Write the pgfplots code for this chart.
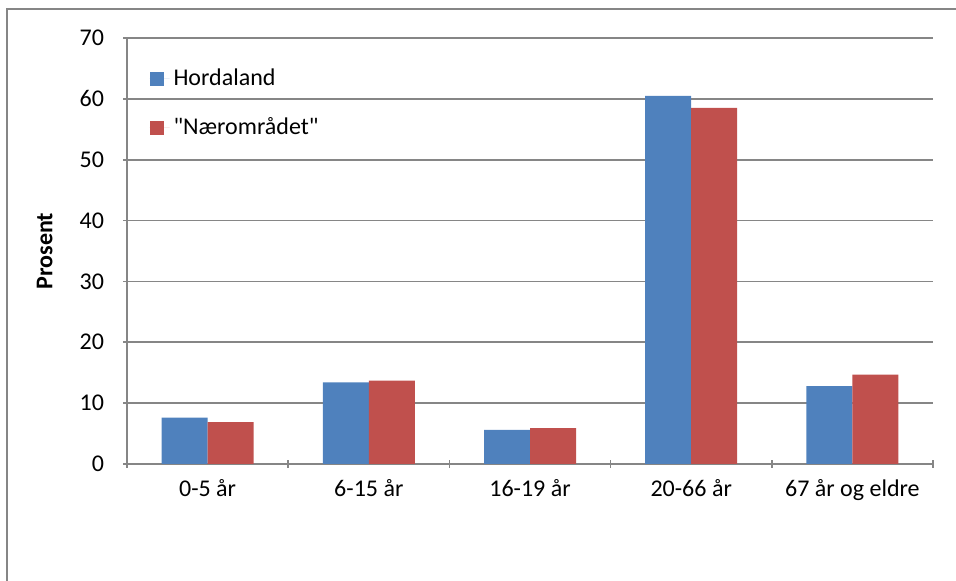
\documentclass[border=0pt]{standalone}
\usepackage{pgfplots}
\pgfplotsset{compat=1.18}
\usepackage{fontspec}
\setmainfont{Carlito}[Ligatures=TeXOff]
\definecolor{hblue}{HTML}{4F81BD}
\definecolor{nred}{HTML}{C0504D}
\definecolor{axgray}{HTML}{868686}
\begin{document}
\begin{tikzpicture}
\useasboundingbox (-63.5pt,-58.5pt) rectangle (414.5pt,232pt);
\draw[axgray, line width=0.6pt] (-60pt,-58.5pt) -- (-60pt,227.5pt) -- (414.5pt,227.5pt);
\begin{axis}[
  /pgf/number format/assume math mode=true,
  font=\fontsize{12}{14}\selectfont,
  scale only axis,
  width=403pt, height=213pt,
  ybar=0pt, bar width=23pt,
  ymin=0, ymax=70, ytick={0,10,...,70},
  xmin=-0.5, xmax=4.5,
  xtick={0,1,2,3,4},
  xticklabels={0-5 år, 6-15 år, 16-19 år, 20-66 år, 67 år og eldre},
  minor xtick={-0.5,0.5,1.5,2.5,3.5,4.5},
  major x tick style={draw=none},
  tick align=outside,
  major tick length=4pt, minor tick length=4pt,
  tick style={axgray, line width=0.8pt},
  axis x line=bottom, axis y line=left,
  axis line style={axgray, line width=0.8pt, -},
  ymajorgrids, grid style={axgray, line width=0.8pt},
  yticklabel style={anchor=east, xshift=-6pt},
  xticklabel style={yshift=-2pt},
  ylabel={\textbf{Prosent}},
  ylabel style={at={(axis description cs:-0.102,0.5)}, anchor=center},
  legend style={at={(0.02,0.947)}, anchor=north west, draw=none, fill=none,
    row sep=10.5pt, font=\fontsize{12}{14}\selectfont},
  legend cell align=left,
  legend image code/.code={\fill[#1] (0pt,-3.5pt) rectangle (7pt,3.5pt); \path (0pt,0pt) -- (10pt,0pt);},
]
\addplot[fill=hblue, draw=none] coordinates {(0,7.6) (1,13.4) (2,5.6) (3,60.5) (4,12.8)};
\addlegendentry{Hordaland}
\addplot[fill=nred, draw=none] coordinates {(0,6.9) (1,13.7) (2,5.9) (3,58.5) (4,14.7)};
\addlegendentry{"Nærområdet"}
\end{axis}
\end{tikzpicture}
\end{document}
